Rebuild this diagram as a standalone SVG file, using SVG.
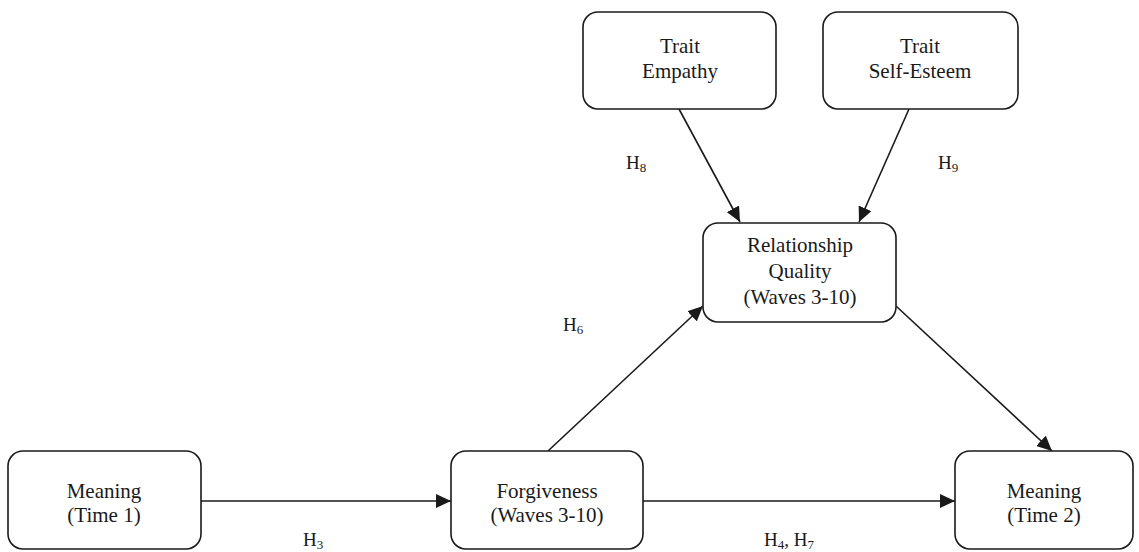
<svg xmlns="http://www.w3.org/2000/svg" width="1139" height="552" viewBox="0 0 1139 552">
  <style>
    .box { fill: #ffffff; stroke: #1a1a1a; stroke-width: 1.6; }
    .lbl { font-family: "Liberation Serif", "Times New Roman", serif; font-size: 21px; fill: #1a1a1a; text-anchor: middle; }
    .hyp { font-family: "Liberation Serif", "Times New Roman", serif; font-size: 19px; fill: #1a1a1a; }
    .sub { font-size: 13px; }
    .edge { stroke: #1a1a1a; stroke-width: 1.6; fill: none; marker-end: url(#arrow); }
  </style>
  <defs>
    <marker id="arrow" markerUnits="userSpaceOnUse" markerWidth="16" markerHeight="14" refX="15" refY="7" orient="auto">
      <path d="M0,0 L15,7 L0,14 Z" fill="#1a1a1a"/>
    </marker>
  </defs>
  <rect width="1139" height="552" fill="#ffffff"/>

  <g id="connectors">
    <line class="edge" x1="201" y1="501" x2="451" y2="501"/>
    <line class="edge" x1="643" y1="501" x2="955" y2="501"/>
    <line class="edge" x1="548" y1="451" x2="703" y2="306"/>
    <line class="edge" x1="896" y1="306" x2="1052" y2="451"/>
    <line class="edge" x1="679" y1="109" x2="740" y2="222"/>
    <line class="edge" x1="909" y1="109" x2="859" y2="222"/>
    <text class="hyp" x="303" y="546">H<tspan class="sub" dy="3">3</tspan></text>
    <text class="hyp" x="764" y="546">H<tspan class="sub" dy="3">4</tspan><tspan dy="-3">, H</tspan><tspan class="sub" dy="3">7</tspan></text>
    <text class="hyp" x="563" y="331">H<tspan class="sub" dy="3">6</tspan></text>
    <text class="hyp" x="626" y="169">H<tspan class="sub" dy="3">8</tspan></text>
    <text class="hyp" x="938" y="169">H<tspan class="sub" dy="3">9</tspan></text>
  </g>

  <g id="trait-empathy">
    <rect class="box" x="583" y="12" width="193" height="97" rx="15"/>
    <text class="lbl" x="680" y="53">Trait</text>
    <text class="lbl" x="680" y="78">Empathy</text>
  </g>

  <g id="trait-self-esteem">
    <rect class="box" x="823" y="12" width="195" height="97" rx="15"/>
    <text class="lbl" x="920" y="53">Trait</text>
    <text class="lbl" x="920" y="78">Self-Esteem</text>
  </g>

  <g id="relationship-quality">
    <rect class="box" x="703" y="223" width="193" height="99" rx="15"/>
    <text class="lbl" x="800" y="252">Relationship</text>
    <text class="lbl" x="800" y="278">Quality</text>
    <text class="lbl" x="800" y="304">(Waves 3-10)</text>
  </g>

  <g id="meaning-time1">
    <rect class="box" x="8" y="451" width="193" height="98" rx="15"/>
    <text class="lbl" x="104" y="498">Meaning</text>
    <text class="lbl" x="104" y="522">(Time 1)</text>
  </g>

  <g id="forgiveness">
    <rect class="box" x="451" y="451" width="192" height="98" rx="15"/>
    <text class="lbl" x="547" y="498">Forgiveness</text>
    <text class="lbl" x="547" y="522">(Waves 3-10)</text>
  </g>

  <g id="meaning-time2">
    <rect class="box" x="955" y="451" width="178" height="98" rx="15"/>
    <text class="lbl" x="1044" y="498">Meaning</text>
    <text class="lbl" x="1044" y="522">(Time 2)</text>
  </g>
</svg>
